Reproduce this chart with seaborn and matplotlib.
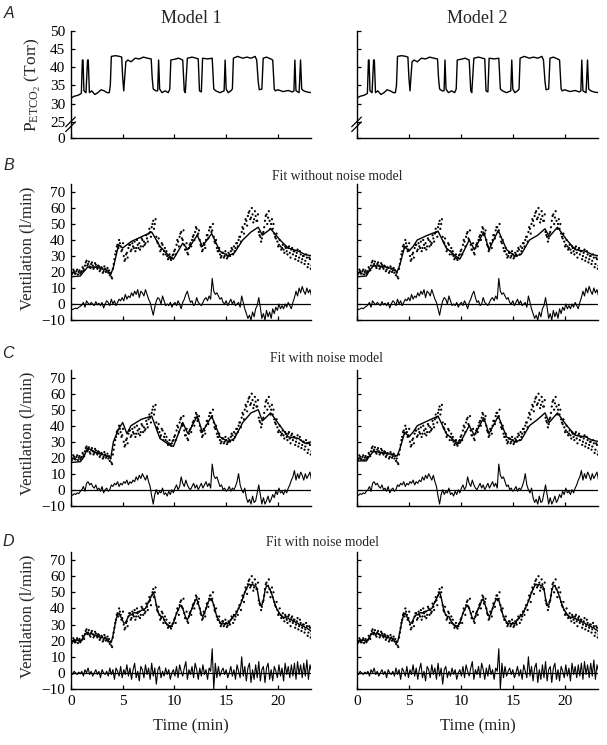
import numpy as np
import pandas as pd
import matplotlib
matplotlib.use("Agg")
import matplotlib.pyplot as plt
import seaborn as sns

sns.set_style("ticks")
plt.rcParams['font.family'] = ['Liberation Serif', 'DejaVu Serif']
plt.rcParams['mathtext.fontset'] = 'custom'
plt.rcParams['mathtext.rm'] = 'Liberation Serif'
plt.rcParams['mathtext.it'] = 'Liberation Serif:italic'

# ---------------- data ----------------
# Panel A: end-tidal PCO2 (Torr) vs time (min)
pet_t = [0, 0.3, 0.7, 1.0, 1.1, 1.16, 1.25, 1.45, 1.6, 1.67, 1.78, 2.0, 2.3, 2.6, 2.9, 3.2,
         3.5, 3.7, 3.8, 3.9, 4.3, 4.7, 4.9, 5.0, 5.1, 5.3, 5.5, 5.8, 6.2, 6.6, 7.0, 7.4,
         7.75, 7.85, 7.95, 8.2, 8.38, 8.47, 8.57, 8.8, 9.1, 9.4, 9.55, 9.65, 10.0, 10.4,
         10.8, 10.95, 11.05, 11.25, 11.7, 12.1, 12.3, 12.42, 12.6, 12.72, 13.2, 13.65,
         13.8, 14.0, 14.4, 14.8, 14.9, 15.0, 15.2, 15.45, 15.6, 15.7, 16.1, 16.6, 17.0,
         17.4, 17.8, 17.95, 18.1, 18.2, 18.45, 18.58, 18.9, 19.3, 19.5, 19.65, 19.75,
         20.0, 20.5, 21.0, 21.4, 21.55, 21.64, 21.75, 22.05, 22.19, 22.3, 22.5, 22.8, 23.2]
pet_v = [31.5, 32, 32.3, 32.8, 42, 42, 33.5, 33, 42, 42, 33, 33.5, 32.5, 33, 33.8, 33.5,
         33, 33, 35, 43, 43.2, 43, 42.8, 37, 33.5, 41.5, 42, 41.5, 42.5, 42.3, 42.8, 42.5,
         42.3, 37, 34, 33.5, 33.5, 42, 34, 33, 33.5, 33, 34, 42, 42.2, 42.5,
         42, 33.5, 33, 42.5, 42.8, 42.5, 42.3, 33.5, 33.2, 42.5, 42.3, 42.5,
         34, 33.5, 33, 33.5, 42, 34, 33, 33.5, 34, 42.5, 43, 42.5, 42.8,
         42.5, 43, 42, 36, 33.8, 34, 42.5, 42.8, 42.3, 42, 34, 33.5,
         33.8, 33.3, 33.6, 33.2, 33.5, 42, 33.5, 33, 42, 34, 33.5, 33.2, 33]
pet_ticks = [25, 30, 35, 40, 45, 50]

# Measured ventilation (l/min), one value every 0.15 min
vent = [21, 19.5, 20.5, 19, 21.5, 20, 19,
        20.5, 22, 24,
        27, 25, 23.5, 25, 24, 23, 24.5,
        22, 23.5, 21.5, 22.5, 20.5, 22, 21,
        19.5, 18, 17,
        22, 28, 33, 37, 40, 36,
        34, 30, 28, 32, 35,
        37, 34, 36, 39, 35, 37, 38, 36, 40, 39, 38, 41, 44,
        45, 48, 52, 50,
        42, 38, 36, 34, 37, 33,
        31, 30, 29, 28.5, 29, 31,
        34, 37, 39, 42, 45, 40,
        37, 34, 32, 35,
        38, 40, 43, 45, 47, 44,
        40, 36, 34, 37,
        40, 43, 46, 48, 46, 42,
        38, 35, 33, 31, 30,
        32, 30, 31, 29.5, 31, 33, 34,
        36, 35, 38, 40, 42, 45, 47, 50,
        52, 55, 58, 54, 56, 53, 55,
        52, 45, 42, 41,
        45, 52, 56, 54, 52, 50,
        47, 44, 41, 39, 37, 36,
        35, 34, 36, 33, 35, 32, 34,
        31, 33, 30, 34, 29, 31, 28,
        30, 27, 29, 25, 28, 24]
# Interleaved breaths (half a step later)
vent_b = [18.5, 21.5, 19, 20.5, 18.5, 21, 20,
          23, 21, 26,
          24, 26.5, 22.5, 26, 22, 25.5, 23,
          24, 20.5, 23, 19.5, 23.5, 20, 22.5,
          21, 19.5, 16,
          25, 31, 36, 35, 38, 33,
          38, 27, 31, 29, 37,
          33, 38, 35, 33, 40, 35, 34, 41, 36, 37, 43, 39, 47,
          42, 50, 47, 53,
          39, 41, 33, 38, 31, 35,
          33, 28, 31, 27.5, 30.5, 33,
          31, 40, 36, 44, 41, 46,
          34, 38, 31, 37,
          36, 42, 40, 48, 43, 46,
          37, 33, 38, 35,
          43, 41, 48, 45, 50, 39,
          40, 33, 35, 29, 32,
          29, 33, 28.5, 32, 30, 35, 31,
          33, 38, 36, 42, 39, 48, 44, 53,
          49, 57, 53, 60, 51, 58, 52,
          56, 43, 39, 44,
          48, 55, 50, 58, 47, 53,
          50, 42, 44, 36, 40, 34,
          37, 32, 35, 31, 36, 29, 35,
          33, 28, 32, 27, 33, 26, 30,
          25, 31, 23, 29, 22, 27]
vent_dt = 0.15

# Fitted curves (B, C) at knot times
fit_t = [0, 0.9, 1.2, 1.6, 2.5, 3.5, 3.85, 4.1, 4.6, 5.0, 5.4, 5.8, 6.8, 7.8, 8.6, 9.5, 9.9,
         10.8, 11.3, 12.2, 12.7, 13.6, 14.4, 15.2, 15.8, 16.6, 17.4, 18.1, 18.5, 19.3,
         20.2, 21.0, 22.0, 22.6, 23.3]
fit_B1 = [17, 17.5, 20, 23, 23, 21, 18.5, 23, 37, 35, 37, 39, 42, 45, 36, 30, 28,
          38, 34, 43, 36, 44, 33, 30, 32, 40, 45, 48, 43, 47,
          40, 35, 33, 31, 30]
fit_B2 = [17, 17.5, 21, 24, 23.5, 22, 20, 24, 36, 33, 36, 40, 43, 45.5, 35, 30, 28,
          40, 34, 45, 34, 46, 34, 30, 31, 40, 43, 47, 42, 48,
          40, 34, 33, 31, 30]
fit_C1 = [17, 17.5, 20, 26, 23, 21, 20, 30, 38, 42, 35, 40, 44, 46, 32, 28, 27,
          42, 35, 46, 36, 46, 33, 30, 32, 42, 48, 50, 43, 48,
          40, 33, 32, 29, 30]
fit_C2 = [18, 18, 21, 24, 23, 22, 21, 25, 36, 33, 36, 40, 43, 46, 35, 30, 29,
          40, 34, 45, 35, 46, 33, 30, 31, 40, 44, 48, 42, 48,
          40, 34, 33, 31, 30]

# Fitted curve (D) on measurement grid
fit_D = [20, 20, 20, 20, 20.5, 20, 19.5,
         20.5, 22, 24,
         25, 24.5, 24, 24.5, 24, 23.5, 23.5,
         23, 22.5, 22, 22, 21.5, 21.5, 21,
         20, 19, 19,
         23, 28, 33, 36, 37, 35,
         33, 31, 31, 33, 35,
         36, 36, 37, 37.5, 37, 38, 38, 38.5, 39, 39.5, 40, 42, 44,
         46, 48, 50, 47,
         42, 38, 36, 35, 35, 33,
         31, 30, 29.5, 29, 29.5, 31,
         34, 37, 39, 41, 42, 40,
         37, 34, 33, 35,
         38, 40, 42, 45, 46, 43,
         40, 36, 35, 37,
         40, 43, 45, 46, 45, 42,
         38, 35, 33, 31.5, 30.5,
         31, 30.5, 30.5, 30.5, 31.5, 33, 34,
         35.5, 36, 38, 40, 42, 44.5, 47, 50,
         52, 54, 55, 54.5, 55, 54, 54,
         52, 46, 42, 42,
         45, 51, 54, 54, 52, 50,
         47, 44, 41, 39, 37.5, 36,
         35, 34.5, 34.5, 34, 34, 33, 33,
         32, 32, 31, 31, 30, 30, 29,
         29, 28, 28, 27, 26.5, 25.5]

# Residuals on measurement grid
res_B = [-3, -3.5, -3, -2.5, -3, -2, -1.5,
         -0.5, 1, -2,
         2, 0.5, -0.5, 1, 0, -1, 1.5,
         -0.5, 0.5, -1, 1, -2.5, 0, 2,
         1, -1, 3,
         0, 2, -1, 1, 3, 2,
         4, 2, 6, 3, 5,
         4, 7, 5, 8, 6, 9, 4, 8, 7, 5, 9, 6, 3,
         1, -3, -7, -2,
         2, 4, 3, 0, 5, 2,
         -1, 0, -1, 1, -2, 0,
         1, -1, 2, 0, -3, 1,
         3, 6, 8, 4,
         1, 2, -1, 0, 4, 1,
         0, -1, 1, 3,
         4, 2, 5, 3, 16, 8,
         6, 7, 5, 3, 4,
         1, 0, 2, -1, 1, 3, 0,
         2, -1, 0, 1, -2, 5, 1, -3,
         -6, -9, -7, -10, -5, -8, -3,
         -1, 4, -2, -9,
         -6, -10, -4, -8, -5, -9,
         -3, -6, -2, -4, 0, -3,
         -1, -3, 0, -2, 1, -1, -3,
         1, 4, 8, 5, 10, 7, 11,
         8, 6, 10, 7, 9, 5]
res_C = [-3, -3.5, -2.5, -3, -2, -2.5, -1,
         0, 2, -1,
         4, 5, 3, 4, 2, 1, 3,
         0, 1, -1, 2, -2, 0, 1,
         -1, 0, 3,
         2, 4, 3, 5, 2, 4,
         3, 5, 4, 6, 3,
         5, 4, 6, 5, 8, 6, 9, 7, 10, 8, 6, 9, 5,
         2, -4, -9, -3,
         0, -3, -1, -2, 1, -3,
         -2, -4, -1, -3, 0, -2,
         1, 3, 0, 2, 8, 4,
         2, 6, 3, 1,
         0, 2, 4, 1, 3, 0,
         2, 4, 1, 3,
         5, 2, 4, 1, 16, 9,
         7, 8, 5, 2, 3,
         0, 1, -1, 0, 2, -1, 1,
         0, 2, 5, 10, 3, 0, -2, 1,
         -5, -8, -6, -9, -4, -8, -7,
         -2, 3, -3, -9,
         -5, -9, -7, -4, -8, -6,
         -3, -5, -1, -3, 1, -2,
         -1, -3, 0, -2, 1, 3, 6,
         8, 12, 6, 10, 7, 11, 9,
         6, 10, 7, 9, 11, 6]
res_D = [0, -1, 1, 0, -1, 0.5, -0.5,
         1, -2, 2,
         0, 3, -1, 1, -2, 0, 2,
         -1, 1, -3, 2, 0, -1, 1,
         -2, 3, -1,
         2, -4, 3, 1, -2, 4,
         -3, 2, -1, 5, -2,
         3, -4, 2, 6, -3, 1, -5, 4, 2, -3, 5, -1, 3,
         -4, 6, -2, 3,
         -7, 2, 4, -3, 1, -2,
         3, -1, 2, -4, 0, 2,
         -2, 4, -3, 5, 1, -2,
         3, 7, -4, 2,
         -1, 4, -3, 6, 2, -4,
         3, -2, 5, -1,
         2, -4, 3, 1, 15, -10,
         6, -3, 4, -2, 1,
         3, -1, 2, -3, 0, 4, -2,
         2, -4, 5, 1, -3, 10, -2, 4,
         -5, 3, 6, -6, 2, -4, 5,
         -3, 7, -5, 2,
         4, -6, 3, 6, -4, 2,
         -5, 4, 1, -3, 5, -2,
         3, -5, 6, -1, 4, -3, 5,
         -2, 6, -4, 7, -1, 5, -3,
         6, -2, 8, -4, 5, 1]

vent_ticks = [-10, 0, 10, 20, 30, 40, 50, 60, 70]
time_ticks = [0, 5, 10, 15, 20]
col_titles = ["Model 1", "Model 2"]
row_titles = ["Fit without noise model", "Fit with noise model", "Fit with noise model"]
panel_letters = ["A", "B", "C", "D"]

# ---------------- layout ----------------
W, H = 607, 745
fig = plt.figure(figsize=(W / 100, H / 100), dpi=100)

cols = [(71 / W, 240 / W), (357 / W, 241 / W)]
rowA = (1 - 138 / H, 107 / H)
rows_v = [(1 - 320 / H, 136 / H), (1 - 505.7 / H, 136 / H), (1 - 689 / H, 137 / H)]

vent_t = np.round(np.arange(len(vent)) * vent_dt, 3)
vent_tb = np.round(vent_t + vent_dt / 2, 3)
meas = pd.DataFrame({"t": np.concatenate([vent_t, vent_tb]),
                     "v": np.concatenate([vent, vent_b])})
pet = pd.DataFrame({"t": pet_t, "v": pet_v})

tick_kw = dict(direction='in', length=3, width=0.9, colors='black', labelsize=11)


def style(ax):
    for s in ['top', 'right']:
        ax.spines[s].set_visible(False)
    for s in ['left', 'bottom']:
        ax.spines[s].set_linewidth(1.0)
        ax.spines[s].set_color('black')
    ax.set_facecolor('white')


# Panel A
for ci, (x0, w) in enumerate(cols):
    ax = fig.add_axes([x0, rowA[0], w, rowA[1]])
    sns.lineplot(data=pet, x="t", y="v", ax=ax, color='black', lw=1.0, estimator=None)
    ax.set_xlim(0, 23.2)
    ax.set_ylim(20.5, 50)
    ax.set_yticks([20.5] + pet_ticks)
    ax.set_xticks(time_ticks)
    ax.set_xticklabels([])
    if ci == 0:
        ax.set_yticklabels(['0'] + [str(v) for v in pet_ticks])
        ax.set_ylabel(r'P$_{\mathrm{ETCO_2}}$ (Torr)', fontsize=12.5)
        ax.yaxis.set_label_coords(-0.115, 0.5)
    else:
        ax.set_yticklabels([])
        ax.set_ylabel('')
    ax.set_xlabel('')
    ax.tick_params(axis='both', pad=4, **tick_kw)
    style(ax)
    # axis break marks
    for dy in (0.0, 0.045):
        ax.plot([-0.022, 0.018], [0.06 + dy, 0.15 + dy], transform=ax.transAxes,
                color='black', lw=0.9, clip_on=False)
    ax.set_title(col_titles[ci], fontsize=13, pad=6)

fits = [[fit_B1, fit_B2], [fit_C1, fit_C2], [None, None]]
resids = [res_B, res_C, res_D]

for ri, (y0, h) in enumerate(rows_v):
    for ci, (x0, w) in enumerate(cols):
        ax = fig.add_axes([x0, y0, w, h])
        sns.scatterplot(data=meas, x="t", y="v", ax=ax, s=2.5, color='black',
                        edgecolor='none', linewidth=0)
        if ri < 2:
            fdf = pd.DataFrame({"t": fit_t, "v": fits[ri][ci]})
        else:
            fdf = pd.DataFrame({"t": vent_t, "v": fit_D})
        sns.lineplot(data=fdf, x="t", y="v", ax=ax, color='black', lw=1.0, estimator=None)
        rdf = pd.DataFrame({"t": vent_t, "v": resids[ri]})
        sns.lineplot(data=rdf, x="t", y="v", ax=ax, color='black', lw=0.8, estimator=None)
        ax.axhline(0, color='black', lw=0.9)
        ax.set_xlim(0, 23.2)
        ax.set_ylim(-10, 75)
        ax.set_yticks(vent_ticks)
        ax.set_xticks(time_ticks)
        if ci == 0:
            ax.set_ylabel('Ventilation (l/min)', fontsize=12)
            ax.yaxis.set_label_coords(-0.15, 0.53)
        else:
            ax.set_yticklabels([])
            ax.set_ylabel('')
        if ri == 2:
            ax.set_xlabel('Time (min)', fontsize=12, labelpad=8)
        else:
            ax.set_xticklabels([])
            ax.set_xlabel('')
        ax.tick_params(axis='both', pad=4, **tick_kw)
        style(ax)

# row titles
title_pos = [(337, 177), (327, 358), (322, 543)]
for (tx, ty), txt in zip(title_pos, row_titles):
    fig.text(tx / W, 1 - ty / H, txt, ha='center', va='center', fontsize=9.8)

# panel letters
letter_pos = [(9, 13), (9, 165), (8, 353), (8, 542)]
for (lx, ly), L in zip(letter_pos, panel_letters):
    fig.text(lx / W, 1 - ly / H, L, ha='center', va='center', fontsize=11.5,
             style='italic', family=['Liberation Sans', 'DejaVu Sans'])

fig.savefig("out.png", dpi=100, facecolor='white')
